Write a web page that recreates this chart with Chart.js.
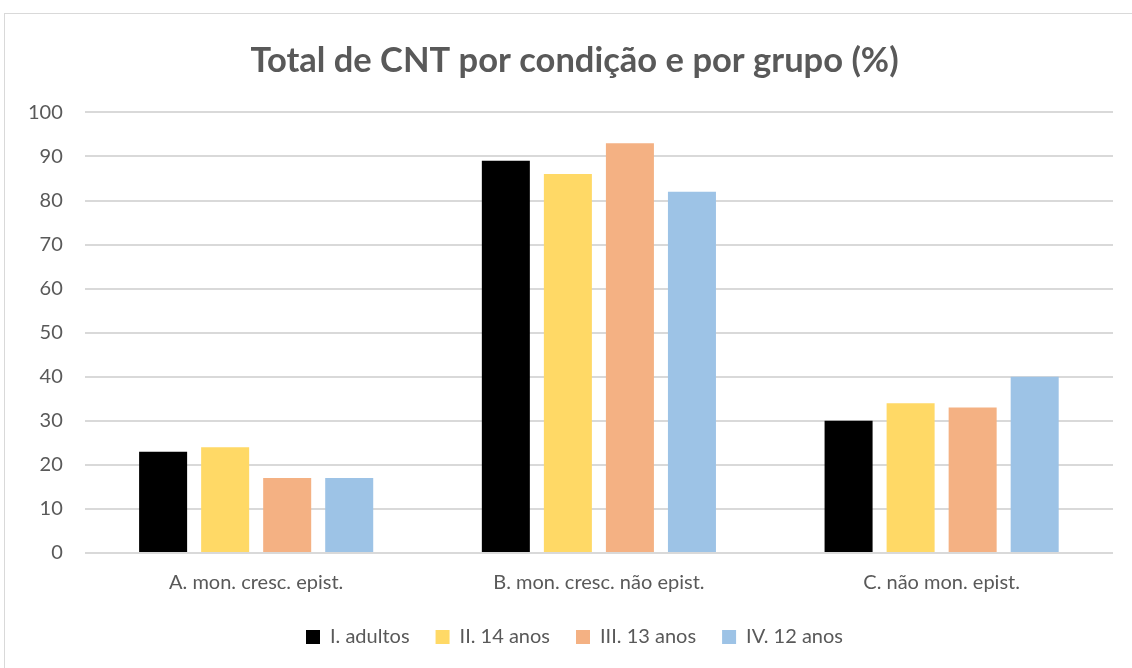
<!DOCTYPE html>
<html>
<head>
<meta charset="utf-8">
<script src="https://cdn.jsdelivr.net/npm/chart.js@4"></script>
<style>
    body { margin: 0; background: #fff; overflow: hidden; width: 1132px; height: 668px; position: relative; }
    #frame { position: absolute; left: 4px; top: 13px; width: 1140px; height: 670px; border: 1px solid #d9d9d9; box-sizing: border-box; }
    #wrap { position: absolute; left: 0; top: 0; width: 1162px; height: 668px; }
</style>
</head>
<body>
<div id="frame"></div>
<div id="wrap"><canvas id="chart"></canvas></div>
<script>
// Data
const categories = ["A. mon. cresc. epist.", "B. mon. cresc. não epist.", "C. não mon. epist."];
const groupNames = ["I. adultos", "II. 14 anos", "III. 13 anos", "IV. 12 anos"];
const adultos = [23, 89, 30];
const anos14 = [24, 86, 34];
const anos13 = [17, 93, 33];
const anos12 = [17, 82, 40];
const yTicks = [0, 10, 20, 30, 40, 50, 60, 70, 80, 90, 100];

const colors = ["#000000", "#FFD966", "#F4B183", "#9DC3E6"];
const series = [adultos, anos14, anos13, anos12];
const textColor = "#595959";
const fontFamily = "Lato, 'Open Sans', sans-serif";

const ctx = document.getElementById("chart").getContext("2d");

new Chart(ctx, {
    type: "bar",
    data: {
        labels: categories,
        datasets: series.map((data, i) => ({
            label: groupNames[i],
            data,
            backgroundColor: colors[i],
            borderWidth: 0,
            categoryPercentage: 0.724,
            barPercentage: 0.774
        }))
    },
    options: {
        responsive: true,
        maintainAspectRatio: false,
        animation: false,
        layout: { padding: { left: 6, right: 19, top: 40, bottom: 11 } },
        plugins: {
            title: {
                display: true,
                text: "Total de CNT por condição e por grupo (%)",
                color: textColor,
                font: { family: fontFamily, size: 34.5, weight: "bold" },
                padding: { top: 0, bottom: 31 }
            },
            legend: {
                position: "bottom",
                labels: {
                    color: textColor,
                    font: { family: fontFamily, size: 20 },
                    boxWidth: 14,
                    boxHeight: 14,
                    padding: 26
                }
            },
            tooltip: { enabled: false }
        },
        scales: {
            x: {
                grid: { display: false },
                border: { display: false },
                afterFit: (axis) => { axis.height -= 4; },
                ticks: {
                    color: textColor,
                    font: { family: fontFamily, size: 20 },
                    padding: 10
                }
            },
            y: {
                min: 0,
                max: 100,
                afterBuildTicks: (axis) => { axis.ticks = yTicks.map(v => ({ value: v })); },
                grid: { color: "#d9d9d9", lineWidth: 2, drawTicks: false },
                border: { display: false },
                ticks: {
                    color: textColor,
                    font: { family: fontFamily, size: 20 },
                    padding: 22
                }
            },
            // empty spacer axis so the title and legend centre like the original
            yRight: {
                position: "right",
                display: true,
                grid: { display: false },
                border: { display: false },
                ticks: { display: false },
                afterFit: (axis) => { axis.width = 30; }
            }
        }
    }
});
</script>
</body>
</html>
